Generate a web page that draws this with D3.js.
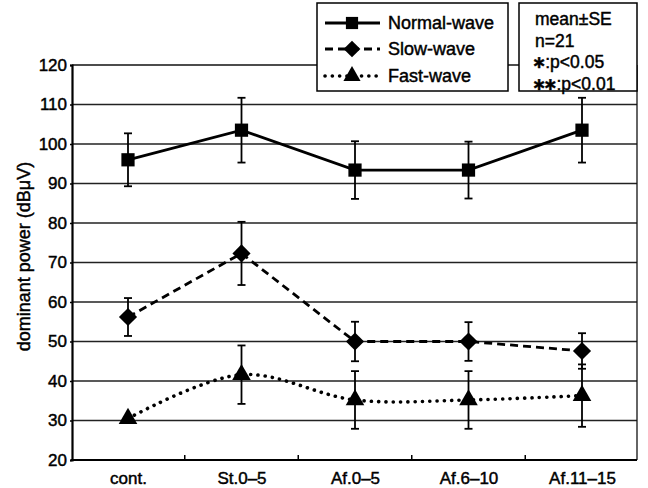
<!DOCTYPE html>
<html>
<head>
<meta charset="utf-8">
<script src="https://cdn.jsdelivr.net/npm/d3@7/dist/d3.min.js"></script>
<style>
  html, body { margin: 0; padding: 0; background: #fff; }
  svg { display: block; }
  text { font-family: "Liberation Sans", Arial, Helvetica, sans-serif; fill: #000;
         stroke: #000; stroke-width: 0.45px; }
</style>
</head>
<body>
<svg id="chart" width="648" height="488"></svg>
<script>
// Categories along the x axis
const categories = ["cont.", "St.0\u20135", "Af.0\u20135", "Af.6\u201310", "Af.11\u201315"];

// Mean dominant power (dBµV) per condition
const normalMean = [96.0, 103.5, 93.4, 93.4, 103.5];
const normalSE   = [6.7, 8.2, 7.3, 7.2, 8.2];

const slowMean = [56.2, 72.3, 50.0, 50.0, 47.6];
const slowSE   = [4.8, 8.0, 5.0, 4.9, 4.5];

const fastMean = [30.5, 41.6, 35.2, 35.2, 36.3];
const fastSE   = [0.6, 7.4, 7.3, 7.3, 7.9];

// Axis ticks and legend text
const yTicks = [20, 30, 40, 50, 60, 70, 80, 90, 100, 110, 120];
const seriesNames = ["Normal-wave", "Slow-wave", "Fast-wave"];
const noteLines = [
  { stars: "", text: "mean\u00b1SE" },
  { stars: "", text: "n=21" },
  { stars: "\u2217", text: ":p<0.05" },
  { stars: "\u2217\u2217", text: ":p<0.01" }
];

const svg = d3.select("#chart");

const frame = { left: 72, right: 637, top: 65, bottom: 460 };

const x = d3.scalePoint().domain(categories).range([128, 582]);
const y = d3.scaleLinear().domain([20, 120]).range([frame.bottom, frame.top]);

// Diamond drawn as a square turned by 45 degrees
const squareDiamond = {
  draw(context, size) {
    const r = Math.sqrt(size / 2);
    context.moveTo(0, -r);
    context.lineTo(r, 0);
    context.lineTo(0, r);
    context.lineTo(-r, 0);
    context.closePath();
  }
};

// Horizontal gridlines
svg.append("g")
  .selectAll("line")
  .data(yTicks.filter(t => t > 20 && t < 120))
  .join("line")
  .attr("x1", frame.left).attr("x2", frame.right)
  .attr("y1", d => y(d)).attr("y2", d => y(d))
  .attr("stroke", "#222").attr("stroke-width", 1.3);

// Plot frame
svg.append("line").attr("x1", frame.left).attr("x2", frame.right)
  .attr("y1", frame.top).attr("y2", frame.top)
  .attr("stroke", "#111").attr("stroke-width", 1.3);
svg.append("line").attr("x1", frame.right).attr("x2", frame.right)
  .attr("y1", frame.top).attr("y2", frame.bottom)
  .attr("stroke", "#111").attr("stroke-width", 1.3);

// Y axis with labels
const yAxis = d3.axisLeft(y).tickValues(yTicks).tickSize(2).tickPadding(3);
const gy = svg.append("g").attr("transform", `translate(${frame.left},0)`).call(yAxis);
gy.select(".domain").attr("stroke", "#000").attr("stroke-width", 2.2);
gy.selectAll(".tick line").attr("stroke", "#000").attr("stroke-width", 1.3);
gy.selectAll(".tick text")
  .style("font-size", "17px")
  .attr("fill", "#000");

// X axis: labels at category centres, short inward ticks between categories
const xAxis = d3.axisBottom(x).tickSize(0).tickPadding(12);
const gx = svg.append("g").attr("transform", `translate(0,${frame.bottom})`).call(xAxis);
gx.select(".domain").remove();
gx.selectAll(".tick text").style("font-size", "17px").attr("fill", "#000");
svg.append("line").attr("x1", frame.left - 1).attr("x2", frame.right)
  .attr("y1", frame.bottom).attr("y2", frame.bottom)
  .attr("stroke", "#000").attr("stroke-width", 2.2);
const mids = d3.pairs(categories).map(([a, b]) => (x(a) + x(b)) / 2);
svg.append("g").selectAll("line").data(mids).join("line")
  .attr("x1", d => d).attr("x2", d => d)
  .attr("y1", frame.bottom).attr("y2", frame.bottom - 5)
  .attr("stroke", "#000").attr("stroke-width", 1.5);

// Y axis title
svg.append("text")
  .attr("transform", `translate(30,${(frame.top + frame.bottom) / 2 - 6}) rotate(-90)`)
  .attr("text-anchor", "middle")
  .style("font-size", "18px")
  .text("dominant power (dB\u03bcV)");

// Series definitions
const series = [
  { name: seriesNames[0], mean: normalMean, se: normalSE, dash: null, cap: "butt", width: 2.8,
    curve: d3.curveLinear, symbol: d3.symbolSquare, size: 175 },
  { name: seriesNames[1], mean: slowMean, se: slowSE, dash: "8,5", cap: "butt", width: 2.8,
    curve: d3.curveLinear, symbol: squareDiamond, size: 165 },
  { name: seriesNames[2], mean: fastMean, se: fastSE, dash: "0.1,7.2", cap: "round", width: 3.6,
    curve: d3.curveCatmullRom.alpha(0.5), symbol: d3.symbolTriangle, size: 150 }
];

// Error bars
series.forEach(s => {
  const g = svg.append("g");
  categories.forEach((c, i) => {
    const cx = x(c);
    const top = y(s.mean[i] + s.se[i]);
    const bot = y(s.mean[i] - s.se[i]);
    g.append("line").attr("x1", cx).attr("x2", cx).attr("y1", top).attr("y2", bot)
      .attr("stroke", "#000").attr("stroke-width", 1.8);
    [top, bot].forEach(yy => {
      g.append("line").attr("x1", cx - 4).attr("x2", cx + 4).attr("y1", yy).attr("y2", yy)
        .attr("stroke", "#000").attr("stroke-width", 1.8);
    });
  });
});

// Lines
series.forEach(s => {
  const line = d3.line()
    .x((d, i) => x(categories[i]))
    .y(d => y(d))
    .curve(s.curve);
  svg.append("path")
    .datum(s.mean)
    .attr("d", line)
    .attr("fill", "none")
    .attr("stroke", "#000")
    .attr("stroke-width", s.width)
    .attr("stroke-linecap", s.cap)
    .attr("stroke-dasharray", s.dash);
});

// Markers
series.forEach(s => {
  svg.append("g").selectAll("path")
    .data(s.mean)
    .join("path")
    .attr("transform", (d, i) => `translate(${x(categories[i])},${y(d)})`)
    .attr("d", d3.symbol().type(s.symbol).size(s.size))
    .attr("fill", "#000");
});

// Legend box
const legend = svg.append("g");
legend.append("rect")
  .attr("x", 317).attr("y", 3).attr("width", 191).attr("height", 88)
  .attr("fill", "#fff").attr("stroke", "#000").attr("stroke-width", 1.5);
const rowY = [23, 49, 76];
series.forEach((s, i) => {
  legend.append("line")
    .attr("x1", 325).attr("x2", 380).attr("y1", rowY[i]).attr("y2", rowY[i])
    .attr("stroke", "#000").attr("stroke-width", s.width)
    .attr("stroke-linecap", s.cap)
    .attr("stroke-dasharray", s.dash);
  legend.append("path")
    .attr("transform", `translate(352,${rowY[i]})`)
    .attr("d", d3.symbol().type(s.symbol).size(s.size * 0.85))
    .attr("fill", "#000");
  legend.append("text")
    .attr("x", 388).attr("y", rowY[i]).attr("dy", "0.35em")
    .style("font-size", "18px")
    .text(s.name);
});

// Statistics note box
const note = svg.append("g");
note.append("rect")
  .attr("x", 519).attr("y", 3).attr("width", 118).attr("height", 88)
  .attr("fill", "#fff").attr("stroke", "#000").attr("stroke-width", 1.5);
const noteText = note.selectAll("text")
  .data(noteLines)
  .join("text")
  .attr("x", 535)
  .attr("y", (d, i) => 19 + i * 21.5)
  .attr("dy", "0.35em")
  .style("font-size", "17.5px");
// significance stars, set tighter than the text that follows them
noteText.filter(d => d.stars)
  .append("tspan")
  .attr("dx", -3)
  .style("font-family", "'DejaVu Sans', sans-serif")
  .style("font-size", "17px")
  .style("font-weight", "bold")
  .attr("letter-spacing", "-3")
  .text(d => d.stars);
noteText.append("tspan")
  .attr("dx", d => d.stars ? 2 : 0)
  .text(d => d.text);
</script>
</body>
</html>
